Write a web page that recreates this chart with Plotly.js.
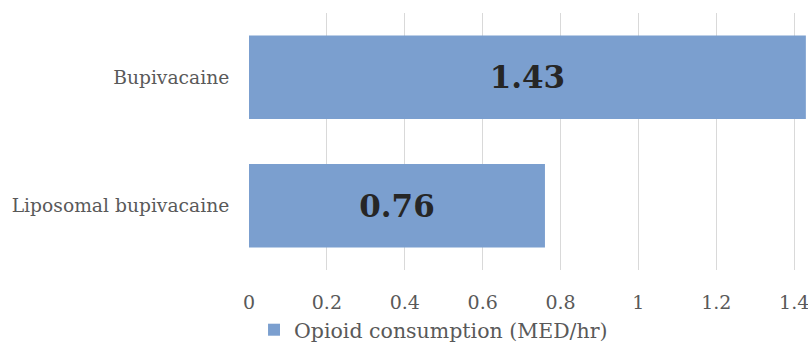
<!DOCTYPE html>
<html>
<head>
<meta charset="utf-8">
<script src="https://cdn.plot.ly/plotly-3.0.1.min.js"></script>
<style>html,body{margin:0;padding:0;background:#fff;}#chart{width:808px;height:352px;}</style>
</head>
<body>
<div id="chart"></div>
<script>
const categories = ["Bupivacaine", "Liposomal bupivacaine"];
const values = [1.43, 0.76];
const valueLabels = ["1.43", "0.76"];
const seriesName = "Opioid consumption (MED/hr)";
const xTickVals = [0, 0.2, 0.4, 0.6, 0.8, 1, 1.2, 1.4];
const xTickText = ["0", "0.2", "0.4", "0.6", "0.8", "1", "1.2", "1.4"];

const serif = "DejaVu Serif, Liberation Serif, serif";

const trace = {
  type: "bar",
  orientation: "h",
  y: categories,
  x: values,
  name: seriesName,
  text: valueLabels,
  textposition: "inside",
  insidetextanchor: "middle",
  textangle: 0,
  textfont: {family: serif, size: 31, color: "#262626", weight: "bold"},
  marker: {color: "#7b9fcf"},
  width: 0.65,
  showlegend: true,
  hoverinfo: "skip"
};

const layout = {
  width: 808,
  height: 352,
  margin: {l: 249, r: 0, t: 13, b: 82},
  paper_bgcolor: "#ffffff",
  plot_bgcolor: "#ffffff",
  font: {family: serif, color: "#595959", size: 19},
  xaxis: {
    range: [0, 1.4355],
    tickvals: xTickVals,
    ticktext: xTickText,
    ticklabeloverflow: "allow",
    showgrid: true,
    gridcolor: "#d9d9d9",
    gridwidth: 1,
    zeroline: false,
    showline: false,
    ticks: "outside",
    ticklen: 15,
    tickcolor: "rgba(0,0,0,0)",
    tickfont: {family: serif, size: 19, color: "#595959"},
    fixedrange: true
  },
  yaxis: {
    type: "category",
    categoryorder: "array",
    categoryarray: categories,
    autorange: "reversed",
    showgrid: false,
    zeroline: false,
    showline: false,
    ticks: "outside",
    ticklen: 15,
    tickcolor: "rgba(0,0,0,0)",
    tickfont: {family: serif, size: 18.7, color: "#595959"},
    fixedrange: true
  },
  showlegend: true,
  legend: {
    orientation: "h",
    x: 0.009,
    xanchor: "left",
    y: -0.233,
    yanchor: "middle",
    font: {family: serif, size: 20.5, color: "#595959"},
    itemwidth: 30,
    bgcolor: "rgba(0,0,0,0)"
  },
  bargap: 0.35
};

Plotly.newPlot("chart", [trace], layout, {displayModeBar: false, staticPlot: true});
</script>
</body>
</html>
